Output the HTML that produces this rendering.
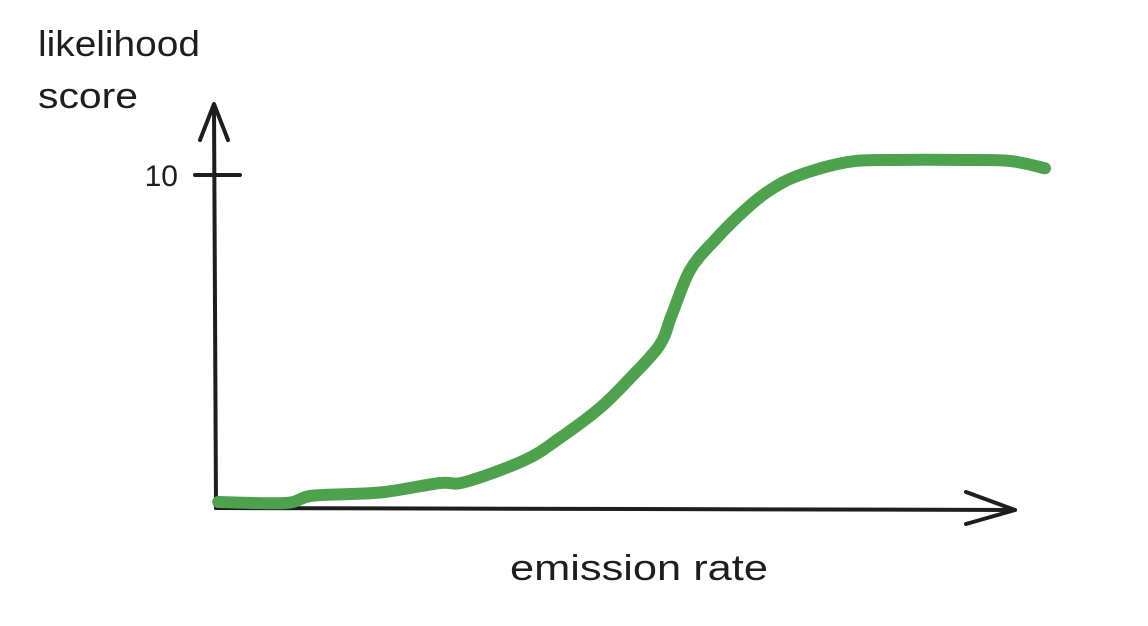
<!DOCTYPE html>
<html><head><meta charset="utf-8"><style>
html,body{margin:0;padding:0;background:#fff;}
svg{display:block;}
text{font-family:"Liberation Sans",sans-serif;fill:#1e1e1e;}
</style></head><body>
<svg id="chart" width="1148" height="626" viewBox="0 0 1148 626">
<text x="38" y="56" font-size="36" textLength="162" lengthAdjust="spacingAndGlyphs">likelihood</text>
<text x="38" y="108" font-size="36" textLength="100" lengthAdjust="spacingAndGlyphs">score</text>
<text x="510" y="580" font-size="36" textLength="258" lengthAdjust="spacingAndGlyphs">emission rate</text>
<g id="axes" stroke="#1e1e1e" stroke-width="4" fill="none" stroke-linecap="round" stroke-linejoin="round">
<path d="M216 508 L214 106"/>
<path d="M200 140 L214 104 L228 140"/>
<path d="M216 508 L1015 510"/>
<path d="M966 492 L1015 510 L966 524"/>
</g>
<g id="ticks"></g>
<path id="curve" fill="none" stroke="#4ea24e" stroke-width="12" stroke-linecap="round" stroke-linejoin="round"/>
</svg>
<script>
const xValues=[0.4,8.75,11.9,16.9,21.25,28.1,31.25,38.75,43.1,48.1,51.9,55.6,57.1,59.4,62.5,66.25,69.4,73.1,79.4,85.6,93.1,99.4,103.75];
const yValues=[0.18,0.15,0.36,0.42,0.48,0.75,0.78,1.44,2.1,3.0,3.9,4.9,5.8,7.15,8.05,8.95,9.55,10.0,10.4,10.45,10.45,10.42,10.2];
const yTickValues=[10];
const yTickLabels=["10"];
function xs(v){return 215+v*8;}
function ys(v){return 508-v*33.3;}
const ns="http://www.w3.org/2000/svg";
const P=xValues.map((v,i)=>[xs(v),ys(yValues[i])]);
let d="M"+P[0][0].toFixed(1)+" "+P[0][1].toFixed(1);
for(let i=0;i<P.length-1;i++){
 const p0=P[Math.max(0,i-1)],p1=P[i],p2=P[i+1],p3=P[Math.min(P.length-1,i+2)];
 const c1=[p1[0]+(p2[0]-p0[0])/6,p1[1]+(p2[1]-p0[1])/6];
 const c2=[p2[0]-(p3[0]-p1[0])/6,p2[1]-(p3[1]-p1[1])/6];
 d+=" C"+c1[0].toFixed(1)+" "+c1[1].toFixed(1)+" "+c2[0].toFixed(1)+" "+c2[1].toFixed(1)+" "+p2[0].toFixed(1)+" "+p2[1].toFixed(1);
}
document.getElementById('curve').setAttribute('d',d);
const tg=document.getElementById('ticks');
yTickValues.forEach((v,i)=>{
 const l=document.createElementNS(ns,'line');
 l.setAttribute('x1',195);l.setAttribute('x2',240);
 l.setAttribute('y1',ys(v));l.setAttribute('y2',ys(v));
 l.setAttribute('stroke','#1e1e1e');l.setAttribute('stroke-width',4);l.setAttribute('stroke-linecap','round');
 
 
 tg.appendChild(l);
 const t=document.createElementNS(ns,'text');
 t.setAttribute('x',178);t.setAttribute('y',ys(v)+11);t.setAttribute('text-anchor','end');t.setAttribute('font-size','30');
 t.textContent=yTickLabels[i];
 
 
 tg.appendChild(t);
});
</script>
</body></html>
